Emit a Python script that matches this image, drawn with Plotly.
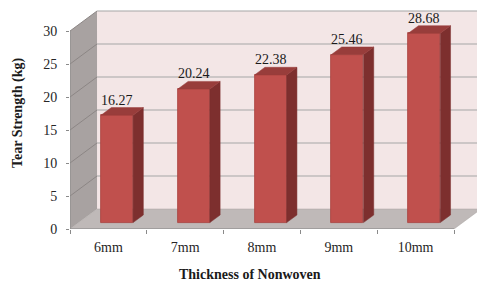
import plotly.graph_objects as go

# ---- data ----
categories = ["6mm", "7mm", "8mm", "9mm", "10mm"]
tear_strength = [16.27, 20.24, 22.38, 25.46, 28.68]
y_ticks = [0, 5, 10, 15, 20, 25, 30]
x_title = "Thickness of Nonwoven"
y_title = "Tear Strength (kg)"

# ---- 3D geometry (data units) ----
N = len(categories)
DX, DY = 0.352, 3.03        # full depth offset of the back wall
DF, DB = 0.32, 0.70         # bar front / back depth fraction
W = 0.417                   # bar width
PLOT_W, PLOT_H = 407, 219
XMAX = PLOT_W / 76.8
YMAX = PLOT_H / 6.6
YTOP = max(y_ticks)

SERIF = "Liberation Serif"
FRONT, TOP, SIDE = "#C0504D", "#983D3B", "#7D2F2E"

fig = go.Figure()
shapes = []

# back wall
shapes.append(dict(type="rect", x0=DX, x1=XMAX + 1, y0=DY, y1=YTOP + DY,
                   fillcolor="#F3E6E6", line=dict(width=0), layer="below"))
# side wall
shapes.append(dict(type="path",
                   path=f"M0,0 L0,{YTOP} L{DX},{YTOP+DY} L{DX},{DY} Z",
                   fillcolor="#A8A2A1", line=dict(width=0), layer="below"))
# floor
shapes.append(dict(type="path",
                   path=f"M0,0 L{N},0 L{N+DX},{DY} L{DX},{DY} Z",
                   fillcolor="#BFB9B8", line=dict(color="#A8A2A1", width=0.5), layer="below"))
# gridlines
for t in y_ticks[1:]:
    shapes.append(dict(type="line", x0=DX, x1=XMAX + 1, y0=t + DY, y1=t + DY,
                       line=dict(color="#A6A6A6", width=1.2), layer="below"))
    shapes.append(dict(type="line", x0=0, x1=DX, y0=t, y1=t + DY,
                       line=dict(color="#8C8685", width=1), layer="below"))
# axis lines
shapes.append(dict(type="line", x0=0, x1=0, y0=0, y1=YTOP,
                   line=dict(color="#8A8A8A", width=1), layer="below"))
shapes.append(dict(type="line", x0=0, x1=N, y0=0, y1=0,
                   line=dict(color="#8A8A8A", width=1.2), layer="below"))

# bars: front faces
xc = [i + 0.5 + DF * DX for i in range(N)]
fig.add_trace(go.Bar(x=xc, y=tear_strength, base=[DF * DY] * N, width=W,
                     marker=dict(color=FRONT, line=dict(color="#A8403E", width=0.8)),
                     hoverinfo="skip", showlegend=False))

annotations = []
for i, v in enumerate(tear_strength):
    L = i + 0.5 - W / 2
    R = i + 0.5 + W / 2
    # side face
    fig.add_trace(go.Scatter(
        x=[R + DF * DX, R + DB * DX, R + DB * DX, R + DF * DX, R + DF * DX],
        y=[DF * DY, DB * DY, v + DB * DY, v + DF * DY, DF * DY],
        fill="toself", fillcolor=SIDE, mode="lines",
        line=dict(color=SIDE, width=0.5), hoverinfo="skip", showlegend=False))
    # top face
    fig.add_trace(go.Scatter(
        x=[L + DF * DX, R + DF * DX, R + DB * DX, L + DB * DX, L + DF * DX],
        y=[v + DF * DY, v + DF * DY, v + DB * DY, v + DB * DY, v + DF * DY],
        fill="toself", fillcolor=TOP, mode="lines",
        line=dict(color=TOP, width=0.5), hoverinfo="skip", showlegend=False))
    annotations.append(dict(x=xc[i], y=v + DB * DY, text=f"{v:.2f}",
                            showarrow=False, yanchor="bottom", yshift=-2,
                            font=dict(family=SERIF, size=14, color="#1A1A1A")))

# axis titles
annotations.append(dict(text=f"<b>{x_title}</b>", xref="paper", yref="paper",
                        x=(250 - 70) / PLOT_W, y=-(274 - 229) / PLOT_H,
                        xanchor="center", yanchor="middle", showarrow=False,
                        font=dict(family=SERIF, size=14, color="#1A1A1A")))
annotations.append(dict(text=f"<b>{y_title}</b>", xref="paper", yref="paper",
                        x=-(70 - 18) / PLOT_W, y=(229 - 113) / PLOT_H,
                        xanchor="center", yanchor="middle", textangle=-90,
                        showarrow=False,
                        font=dict(family=SERIF, size=14, color="#1A1A1A")))

fig.update_layout(
    width=477, height=282,
    margin=dict(l=70, r=0, t=10, b=53),
    paper_bgcolor="white", plot_bgcolor="white",
    shapes=shapes, annotations=annotations,
    font=dict(family=SERIF, size=14, color="#262626"),
    xaxis=dict(range=[0, XMAX], tickvals=[i + 0.5 for i in range(N)],
               ticktext=categories, ticks="", showgrid=False, zeroline=False,
               showline=False, ticklabelstandoff=8, fixedrange=True,
               minor=dict(tickmode="array", tickvals=list(range(N + 1)),
                          ticks="outside", ticklen=4, tickcolor="#8A8A8A", showgrid=False)),
    yaxis=dict(range=[0, YMAX], tickvals=y_ticks, ticks="outside", ticklen=3,
               tickcolor="#8A8A8A", showgrid=False, zeroline=False, showline=False,
               ticklabelstandoff=6, fixedrange=True),
    bargap=0,
)

fig.write_html("out.html", config={"displayModeBar": False},
               post_script="document.body.style.margin='0';")
